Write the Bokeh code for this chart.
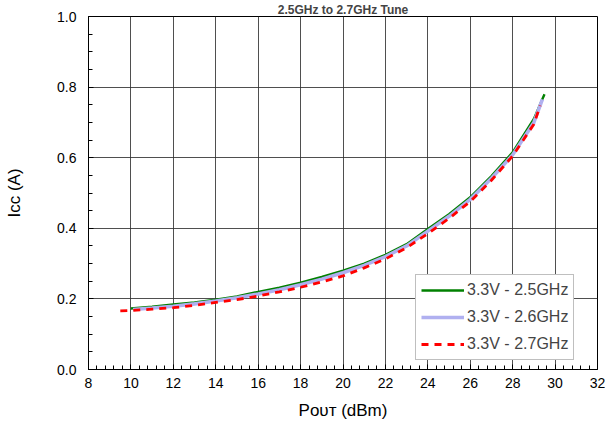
import numpy as np
from bokeh.plotting import figure
from bokeh.models import (FixedTicker, NumeralTickFormatter, Legend, LegendItem, Range1d)
from bokeh.embed import file_html
from bokeh.resources import INLINE

title_text = "2.5GHz to 2.7GHz Tune"
x_label = "P\u1d0f\u1d1c\u1d1b (dBm)"
y_label = "I\u1d04\u1d04 (A)"
x_ticks = [8, 10, 12, 14, 16, 18, 20, 22, 24, 26, 28, 30, 32]
y_ticks = [0.0, 0.2, 0.4, 0.6, 0.8, 1.0]

pout_25 = [10, 11, 12, 13, 14, 15, 16, 17, 18, 19, 20, 21, 22, 23, 24, 25, 26, 27, 28, 29, 29.5]
icc_25 = [0.173, 0.178, 0.184, 0.190, 0.198, 0.207, 0.220, 0.232, 0.246, 0.262, 0.280, 0.300,
          0.325, 0.355, 0.398, 0.440, 0.488, 0.548, 0.615, 0.710, 0.780]

pout_26 = [10.1, 11, 12, 13, 14, 15, 16, 17, 18, 19, 20, 21, 22, 23, 24, 25, 26, 27, 28, 29, 29.4]
icc_26 = [0.170, 0.174, 0.179, 0.186, 0.194, 0.203, 0.214, 0.226, 0.240, 0.256, 0.274, 0.295,
          0.320, 0.350, 0.392, 0.434, 0.482, 0.542, 0.608, 0.700, 0.765]

pout_27 = [9.5, 10, 11, 12, 13, 14, 15, 16, 17, 18, 19, 20, 21, 22, 23, 24, 25, 26, 27, 28, 29, 29.3]
icc_27 = [0.166, 0.167, 0.171, 0.175, 0.182, 0.190, 0.198, 0.208, 0.220, 0.233, 0.248, 0.265,
          0.288, 0.313, 0.345, 0.385, 0.428, 0.476, 0.536, 0.605, 0.695, 0.748]

series_names = ["3.3V - 2.5GHz", "3.3V - 2.6GHz", "3.3V - 2.7GHz"]

BL, BR, BT, BB = 88, 8, 15, 60
FW, FH = 509, 354
W, H = BL + FW + BR, BT + FH + BB

FONT = "Liberation Sans"

p = figure(width=W, height=H, output_backend="svg", toolbar_location=None,
           x_range=Range1d(8, 32), y_range=Range1d(0, 1.0),
           min_border_left=BL, min_border_right=BR, min_border_top=BT, min_border_bottom=BB,
           title=title_text)
p.title.text_font = FONT
p.title.text_font_size = "12px"
p.title.text_font_style = "bold"
p.title.align = "center"
p.title.standoff = 0
p.title.offset = -15

p.outline_line_color = "black"
p.outline_line_width = 1
p.background_fill_color = "white"
p.border_fill_color = "white"

p.xaxis.ticker = FixedTicker(ticks=x_ticks, minor_ticks=list(np.arange(8, 32.01, 0.4)))
p.yaxis.ticker = FixedTicker(ticks=y_ticks, minor_ticks=list(np.arange(0, 1.001, 0.05)))
p.yaxis.formatter = NumeralTickFormatter(format="0.0")
for ax in (p.xaxis, p.yaxis):
    ax.major_tick_in = 5
    ax.major_tick_out = 0
    ax.minor_tick_in = 4
    ax.minor_tick_out = 0
    ax.axis_line_color = "black"
    ax.major_tick_line_color = "black"
    ax.minor_tick_line_color = "black"
    ax.major_label_text_font = FONT
    ax.major_label_text_font_size = "14px"
    ax.major_label_text_color = "black"
    ax.axis_label_text_font = FONT
    ax.axis_label_text_font_size = "17px"
    ax.axis_label_text_font_style = "normal"
    ax.axis_label_text_color = "black"
p.xaxis.major_label_standoff = 8
p.yaxis.major_label_standoff = 12
p.xaxis.axis_label = x_label
p.yaxis.axis_label = y_label
p.xaxis.axis_label_standoff = 10
p.yaxis.axis_label_standoff = 30

p.grid.grid_line_color = "#303030"
p.grid.grid_line_width = 1
p.grid.grid_line_alpha = 0.85

r1 = p.line(pout_25, icc_25, line_color="green", line_width=2.4)
r2 = p.line(pout_26, icc_26, line_color="#b0b0f0", line_width=3.6)
r3 = p.line(pout_27, icc_27, line_color="red", line_width=2.8, line_dash="7 6")

legend = Legend(items=[LegendItem(label=series_names[0], renderers=[r1]),
                       LegendItem(label=series_names[1], renderers=[r2]),
                       LegendItem(label=series_names[2], renderers=[r3])],
                location=(327, 9))
legend.label_text_font = FONT
legend.label_text_font_size = "16px"
legend.border_line_color = "#808080"
legend.border_line_width = 1
legend.background_fill_alpha = 1
legend.glyph_width = 43
legend.glyph_height = 20
legend.label_height = 20
legend.spacing = 7
legend.padding = 5
legend.margin = 0
legend.label_standoff = 3
p.add_layout(legend)

open("out.html", "w").write(file_html(p, INLINE))
